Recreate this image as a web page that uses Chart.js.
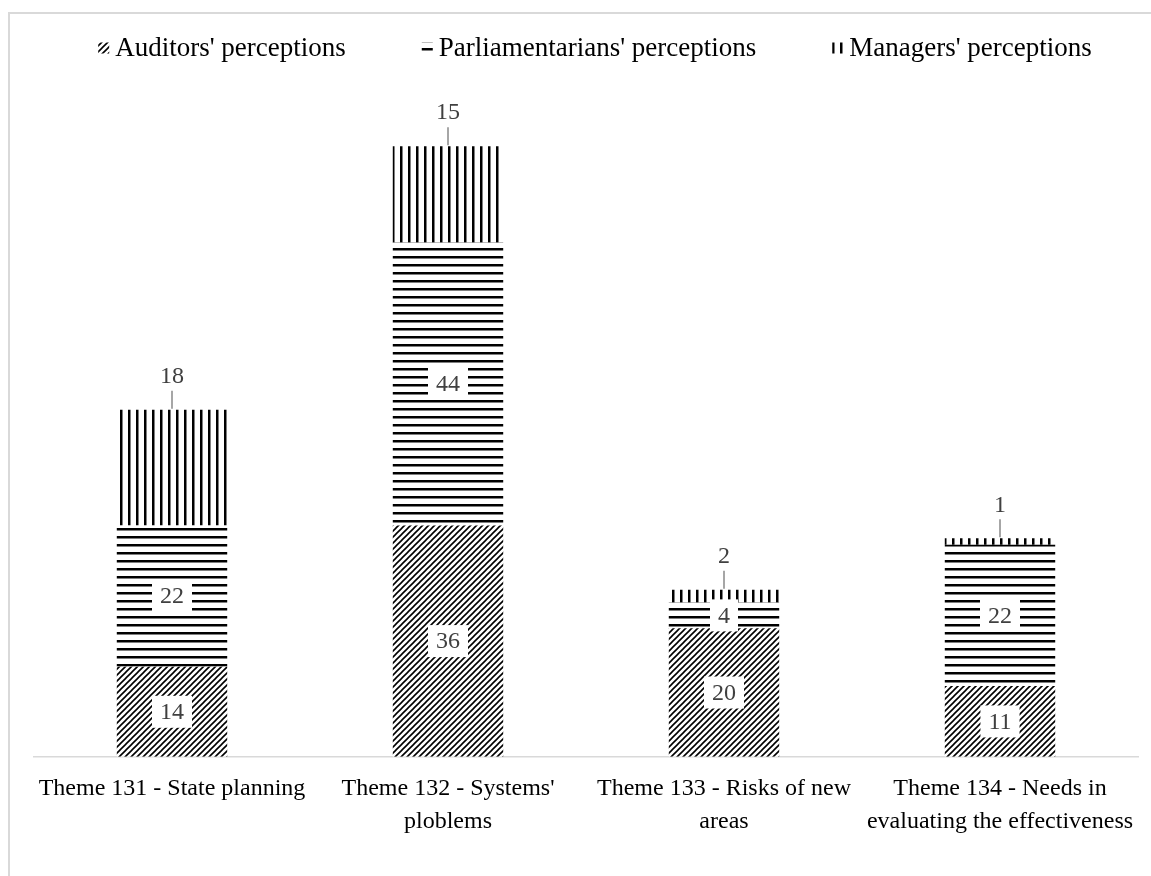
<!DOCTYPE html>
<html>
<head>
<meta charset="utf-8">
<script src="https://cdn.jsdelivr.net/npm/chart.js@4.4.1/dist/chart.umd.min.js"></script>
<style>
  html, body { margin: 0; padding: 0; background: #ffffff; }
  canvas { display: block; }
</style>
</head>
<body>
<canvas id="c" width="1151" height="876"></canvas>
<script>
// ---- data ----
const categories = [
  ["Theme 131 - State planning"],
  ["Theme 132 - Systems'", "ploblems"],
  ["Theme 133 - Risks of new", "areas"],
  ["Theme 134 - Needs in", "evaluating the effectiveness"]
];
const seriesNames = ["Auditors' perceptions", "Parliamentarians' perceptions", "Managers' perceptions"];
const auditors = [14, 36, 20, 11];
const parliamentarians = [22, 44, 4, 22];
const managers = [18, 15, 2, 1];

const FONT = "'Liberation Serif', 'Times New Roman', serif";

function makePattern(kind) {
  const c = document.createElement('canvas');
  const s = kind === 'diag' ? 6 : 8;
  c.width = s; c.height = s;
  const g = c.getContext('2d');
  g.fillStyle = '#ffffff';
  g.fillRect(0, 0, s, s);
  g.fillStyle = '#000000';
  g.strokeStyle = '#000000';
  if (kind === 'diag') {
    g.lineWidth = 1.6;
    g.beginPath();
    g.moveTo(-1, s + 1); g.lineTo(s + 1, -1);
    g.moveTo(-1, 1); g.lineTo(1, -1);
    g.moveTo(s - 1, s + 1); g.lineTo(s + 1, s - 1);
    g.stroke();
  } else if (kind === 'horiz') {
    g.fillRect(0, 0, s, 2.5);
  } else {
    g.fillRect(0, 0, 2.5, s);
  }
  return document.getElementById('c').getContext('2d').createPattern(c, 'repeat');
}
const patterns = [makePattern('diag'), makePattern('horiz'), makePattern('vert')];

const framePlugin = {
  id: 'frame',
  beforeDraw(chart) {
    const ctx = chart.ctx;
    ctx.save();
    ctx.fillStyle = '#ffffff';
    ctx.fillRect(0, 0, chart.width, chart.height);
    ctx.strokeStyle = '#d9d9d9';
    ctx.lineWidth = 2;
    ctx.beginPath();
    ctx.moveTo(8, 13); ctx.lineTo(chart.width, 13);
    ctx.moveTo(9, 12); ctx.lineTo(9, chart.height);
    ctx.stroke();
    ctx.restore();
  }
};

const legendPlugin = {
  id: 'customLegend',
  afterDraw(chart) {
    const ctx = chart.ctx;
    ctx.save();
    ctx.font = '27px ' + FONT;
    ctx.textBaseline = 'middle';
    const box = 11, gapBox = 6, gapItem = 76;
    const names = chart.data.datasets.map(d => d.label);
    const widths = names.map(n => box + gapBox + ctx.measureText(n).width);
    const total = widths.reduce((a, b) => a + b, 0) + gapItem * (names.length - 1);
    let x = 595 - total / 2;
    const y = 48;
    names.forEach((n, i) => {
      ctx.fillStyle = patterns[i];
      ctx.fillRect(x, y - box / 2, box, box);
      ctx.fillStyle = '#000000';
      ctx.fillText(n, x + box + gapBox, y + 1);
      x += widths[i] + gapItem;
    });
    ctx.restore();
  }
};

const labelPlugin = {
  id: 'barLabels',
  afterDatasetsDraw(chart) {
    const ctx = chart.ctx;
    ctx.save();
    ctx.font = '24px ' + FONT;
    ctx.textAlign = 'center';
    ctx.textBaseline = 'middle';
    chart.data.datasets.forEach((ds, di) => {
      const meta = chart.getDatasetMeta(di);
      meta.data.forEach((bar, i) => {
        const v = ds.data[i];
        const txt = String(v);
        const tw = ctx.measureText(txt).width;
        if (di < 2) {
          const cy = (bar.y + bar.base) / 2;
          ctx.fillStyle = '#ffffff';
          ctx.fillRect(bar.x - tw / 2 - 8, cy - 16, tw + 16, 32);
          ctx.fillStyle = '#404040';
          ctx.fillText(txt, bar.x, cy + 1);
        } else {
          const cy = bar.y - 34;
          ctx.strokeStyle = '#a6a6a6';
          ctx.lineWidth = 2;
          ctx.beginPath();
          ctx.moveTo(bar.x, bar.y - 19);
          ctx.lineTo(bar.x, bar.y - 1);
          ctx.stroke();
          ctx.fillStyle = '#404040';
          ctx.fillText(txt, bar.x, cy + 1);
        }
      });
    });
    ctx.restore();
  }
};

new Chart(document.getElementById('c'), {
  type: 'bar',
  data: {
    labels: categories,
    datasets: [
      { label: seriesNames[0], data: auditors, backgroundColor: patterns[0], borderWidth: 0 },
      { label: seriesNames[1], data: parliamentarians, backgroundColor: patterns[1], borderWidth: 0 },
      { label: seriesNames[2], data: managers, backgroundColor: patterns[2], borderWidth: 0 }
    ]
  },
  options: {
    responsive: false,
    animation: false,
    events: [],
    layout: { padding: { left: 34, right: 13, top: 114, bottom: 30 } },
    datasets: { bar: { categoryPercentage: 1, barPercentage: 0.4 } },
    plugins: { legend: { display: false }, tooltip: { enabled: false } },
    scales: {
      x: {
        stacked: true,
        grid: { display: false },
        border: { display: true, color: '#d9d9d9', width: 1.5 },
        ticks: {
          color: '#000000',
          font: { family: FONT, size: 24, lineHeight: 1.4 },
          maxRotation: 0, minRotation: 0, autoSkip: false, padding: 7
        }
      },
      y: { stacked: true, display: false, min: 0, max: 100 }
    }
  },
  plugins: [framePlugin, labelPlugin, legendPlugin]
});
</script>
</body>
</html>
